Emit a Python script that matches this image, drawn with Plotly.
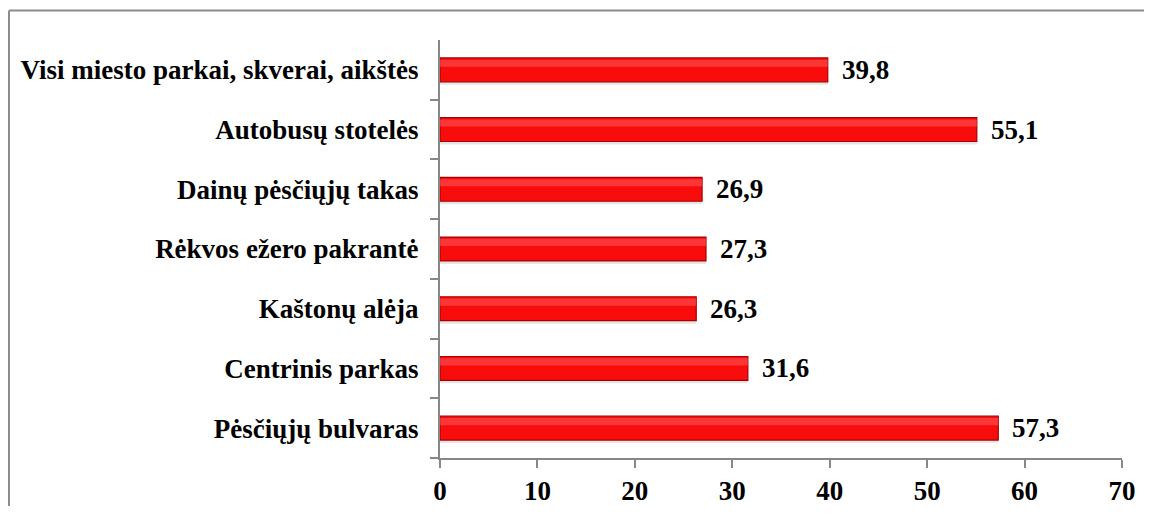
import plotly.graph_objects as go

categories = [
    "Visi miesto parkai, skverai, aikštės",
    "Autobusų stotelės",
    "Dainų pėsčiųjų takas",
    "Rėkvos ežero pakrantė",
    "Kaštonų alėja",
    "Centrinis parkas",
    "Pėsčiųjų bulvaras",
]
values = [39.8, 55.1, 26.9, 27.3, 26.3, 31.6, 57.3]
x_ticks = [0, 10, 20, 30, 40, 50, 60, 70]

FONT = "Times New Roman, Liberation Serif, DejaVu Serif, serif"
AXIS = "#878787"
FS = 27

fig = go.Figure()
# soft shadow under bars
fig.add_trace(go.Bar(
    x=values, y=categories, orientation="h", width=0.42, offset=-0.25,
    marker=dict(color="rgba(0,0,0,0.10)", line=dict(width=0)),
    hoverinfo="skip", showlegend=False,
))
fig.add_trace(go.Bar(
    x=values, y=categories, orientation="h", width=0.4, offset=-0.2,
    marker=dict(color="#F80C0C", line=dict(color="#A80000", width=1.2)),
    showlegend=False,
))
# highlight band on top part of bars
fig.add_trace(go.Bar(
    x=values, y=categories, orientation="h", width=0.12, offset=0.05,
    marker=dict(color="rgba(255,90,90,0.55)", line=dict(width=0)),
    hoverinfo="skip", showlegend=False,
))

for c, v in zip(categories, values):
    fig.add_annotation(
        x=v, y=c, text=f"<b>{v:.1f}</b>".replace(".", ","),
        showarrow=False, xanchor="left", yanchor="middle", xshift=12,
        font=dict(family=FONT, size=FS, color="black"),
    )

bx0 = (1 - 432) / 682
by1 = 1 + (40 - 10.5) / 418
border = dict(color="#8C8C8C", width=2)
fig.update_layout(
    width=1136, height=498,
    margin=dict(l=432, r=22, t=32, b=48, autoexpand=False),
    paper_bgcolor="white", plot_bgcolor="white",
    barmode="overlay",
    font=dict(family=FONT, size=FS, color="black"),
    shapes=[
        dict(type="line", xref="paper", yref="paper", x0=bx0, x1=1.05,
             y0=by1, y1=by1, line=border, layer="below"),
        dict(type="line", xref="paper", yref="paper", x0=bx0, x1=bx0,
             y0=-0.12, y1=by1, line=border, layer="below"),
    ],
)
fig.update_xaxes(
    range=[0, 70], tickvals=x_ticks,
    ticktext=[f"<b>{t}</b>" for t in x_ticks],
    showgrid=False, zeroline=False,
    showline=True, linecolor=AXIS, linewidth=2,
    ticks="outside", ticklen=8, tickwidth=2, tickcolor=AXIS,
    tickfont=dict(family=FONT, size=FS, color="black"),
)
fig.update_yaxes(
    categoryorder="array", categoryarray=categories[::-1],
    tickvals=categories,
    ticktext=[f"<b>{c}</b>" for c in categories],
    tickson="boundaries",
    showgrid=False, zeroline=False,
    showline=True, linecolor=AXIS, linewidth=2,
    ticks="outside", ticklen=8, tickwidth=2, tickcolor=AXIS,
    ticklabelstandoff=14,
    tickfont=dict(family=FONT, size=FS, color="black"),
)

fig.write_html("out.html")
